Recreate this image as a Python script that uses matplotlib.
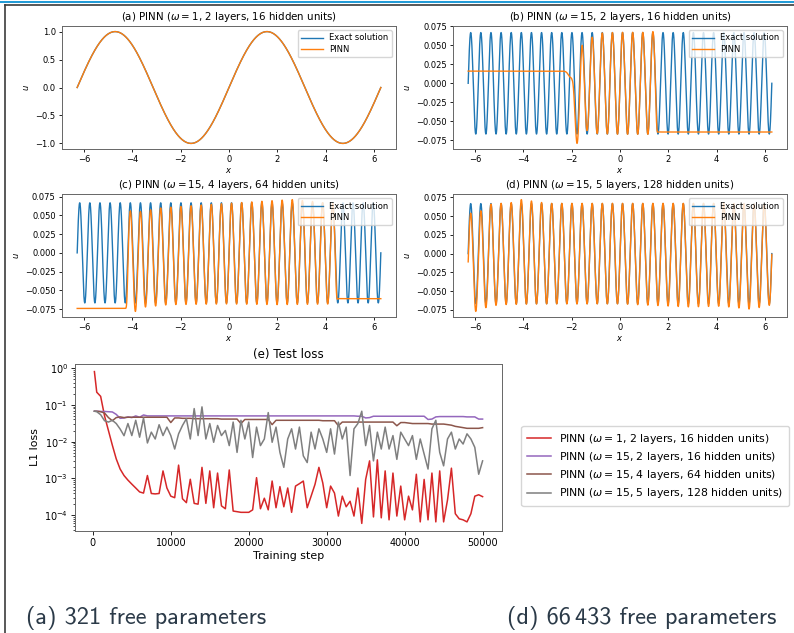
import numpy as np
import matplotlib
matplotlib.use('Agg')
import matplotlib.pyplot as plt
from matplotlib.lines import Line2D

# ---- panels (a)-(d): u(x) on [-2pi, 2pi] ----
omegas = [1, 15, 15, 15]
panel_titles = [
    r'(a) PINN ($\omega = 1$, 2 layers, 16 hidden units)',
    r'(b) PINN ($\omega = 15$, 2 layers, 16 hidden units)',
    r'(c) PINN ($\omega = 15$, 4 layers, 64 hidden units)',
    r'(d) PINN ($\omega = 15$, 5 layers, 128 hidden units)',
]
x_lo, x_hi = -2 * np.pi, 2 * np.pi

# PINN peak / trough heights (x position, value)
peak_x = [[-6.3, 6.3],
          [-1.99, -1.57, -0.94, 0.0, 1.0, 1.36],
          [-4.08, -3.66, -2.8, -1.0, 0.0, 1.5, 2.6, 3.6, 4.08],
          [-6.3, -5.76, -5.34, -4.5, -4.08, -3.0, 0.0, 2.0, 4.0, 6.3]]
peak_u = [[1.0, 1.0],
          [-0.01, 0.05, 0.066, 0.067, 0.067, 0.068],
          [0.056, 0.055, 0.060, 0.064, 0.066, 0.069, 0.071, 0.068, 0.066],
          [0.053, 0.057, 0.066, 0.068, 0.072, 0.067, 0.067, 0.067, 0.067, 0.066]]
trough_x = [[-6.3, 6.3],
            [-1.78, -1.36, -1.15, 0.0, 1.57],
            [-4.29, -3.87, -3.45, -2.5, 0.0, 2.0, 4.5],
            [-6.3, -5.97, -5.55, -5.0, -3.0, 0.0, 2.8, 4.2, 5.4, 5.9, 6.3]]
trough_u = [[-1.0, -1.0],
            [-0.083, -0.062, -0.066, -0.067, -0.067],
            [-0.074, -0.078, -0.072, -0.069, -0.068, -0.069, -0.068],
            [-0.075, -0.077, -0.072, -0.068, -0.067, -0.067, -0.071, -0.070, -0.074, -0.071, -0.068]]
# flat parts of the PINN: (level, where it switches, sharpness)
left_flat = [None, (0.016, -1.97, 0.06), (-0.074, -4.22, 0.02), None]
right_flat = [None, (-0.064, 1.52, 0.02), (-0.061, 4.45, 0.02), None]

# ---- panel (e): test loss ----
steps = [200] + list(range(500, 50001, 500))
loss_w1_2x16 = [
    0.8, 0.22, 0.17, 0.05, 0.02, 0.008, 0.0034, 0.0018, 0.0012, 9e-4,
    7e-4, 5.5e-4, 4.3e-4, 4e-4, 1.2e-3, 3.9e-4, 3.8e-4, 3.9e-4, 1.6e-3, 5.5e-4,
    3.3e-4, 3e-4, 2.3e-3, 2.8e-4, 2.2e-4, 9.5e-4, 2.1e-4, 2e-4, 2e-3, 2.1e-4,
    1.6e-3, 1.6e-4, 1.4e-3, 1.8e-4, 1.5e-4, 1.7e-3, 1.3e-4, 1.25e-4, 1.2e-4, 1.2e-4,
    1.2e-4, 1.4e-4, 1.05e-3, 1.5e-4, 2.9e-4, 1.4e-4, 8.5e-4, 1.6e-4, 6e-4, 1.7e-4,
    5.5e-4, 1.2e-4, 6.2e-4, 7.2e-4, 8.5e-4, 1.6e-4, 3.3e-4, 6.9e-4, 2e-3, 7.5e-4,
    1.6e-4, 6.2e-4, 4e-4, 9.5e-5, 3.3e-4, 1.7e-4, 2.4e-4, 9.5e-5, 5.5e-4, 6e-5,
    9.4e-4, 3e-3, 9e-5, 3.2e-3, 8.5e-5, 1.6e-3, 7.5e-5, 1.4e-3, 9.5e-5, 6.2e-4,
    7.5e-5, 3.3e-4, 1.4e-4, 1.3e-3, 6.6e-5, 9.4e-4, 7.5e-5, 1.4e-3, 6.6e-5, 1.6e-3,
    6.6e-5, 2.6e-4, 1.9e-3, 1.1e-4, 8e-5, 7.5e-5, 6.6e-5, 1.1e-4, 3.3e-4, 3.6e-4,
    3.2e-4]
loss_w15_2x16 = [
    0.067, 0.067, 0.066, 0.066, 0.065, 0.064, 0.055, 0.043, 0.044, 0.047,
    0.045, 0.05, 0.046, 0.053, 0.05, 0.05, 0.05, 0.05, 0.05, 0.05,
    0.05, 0.05, 0.05, 0.05, 0.05, 0.05, 0.05, 0.05, 0.05, 0.05,
    0.05, 0.05, 0.05, 0.05, 0.05, 0.05, 0.05, 0.05, 0.05, 0.05,
    0.05, 0.05, 0.05, 0.05, 0.05, 0.05, 0.05, 0.05, 0.05, 0.05,
    0.05, 0.05, 0.05, 0.05, 0.05, 0.05, 0.05, 0.05, 0.05, 0.05,
    0.05, 0.05, 0.05, 0.05, 0.05, 0.05, 0.05, 0.05, 0.049, 0.049,
    0.044, 0.045, 0.049, 0.049, 0.049, 0.049, 0.049, 0.049, 0.049, 0.049,
    0.049, 0.049, 0.049, 0.049, 0.049, 0.049, 0.04, 0.041, 0.047, 0.048,
    0.048, 0.048, 0.048, 0.048, 0.048, 0.048, 0.047, 0.047, 0.047, 0.041,
    0.041]
loss_w15_4x64 = [
    0.067, 0.067, 0.065, 0.06, 0.045, 0.037, 0.045, 0.047, 0.045, 0.046,
    0.046, 0.046, 0.046, 0.046, 0.046, 0.046, 0.046, 0.046, 0.046, 0.046,
    0.033, 0.044, 0.044, 0.043, 0.043, 0.043, 0.042, 0.042, 0.042, 0.042,
    0.042, 0.042, 0.042, 0.041, 0.041, 0.041, 0.041, 0.041, 0.031, 0.04,
    0.04, 0.04, 0.04, 0.04, 0.04, 0.04, 0.029, 0.038, 0.038, 0.038,
    0.038, 0.038, 0.038, 0.038, 0.038, 0.038, 0.038, 0.038, 0.038, 0.037,
    0.037, 0.037, 0.037, 0.027, 0.034, 0.034, 0.034, 0.034, 0.034, 0.034,
    0.034, 0.034, 0.034, 0.034, 0.034, 0.034, 0.034, 0.034, 0.027, 0.033,
    0.033, 0.032, 0.031, 0.031, 0.031, 0.031, 0.031, 0.03, 0.03, 0.03,
    0.03, 0.029, 0.028, 0.026, 0.025, 0.024, 0.023, 0.023, 0.023, 0.023,
    0.024]
loss_w15_5x128 = [
    0.067, 0.065, 0.054, 0.037, 0.034, 0.038, 0.031, 0.022, 0.0145, 0.031,
    0.0146, 0.038, 0.0132, 0.044, 0.0092, 0.0181, 0.0118, 0.0288, 0.0146, 0.0248,
    0.0146, 0.0063, 0.0163, 0.0275, 0.042, 0.0118, 0.079, 0.0146, 0.088, 0.0118,
    0.031, 0.0096, 0.0275, 0.0146, 0.0201, 0.0078, 0.034, 0.0051, 0.038, 0.0118,
    0.034, 0.0037, 0.0248, 0.0078, 0.0118, 0.0615, 0.0096, 0.0248, 0.0051, 0.002,
    0.0118, 0.0223, 0.0063, 0.0248, 0.0041, 0.0027, 0.0181, 0.0063, 0.0223, 0.0118,
    0.0051, 0.0223, 0.0046, 0.034, 0.0118, 0.0248, 0.0012, 0.0223, 0.031, 0.067,
    0.0078, 0.0275, 0.003, 0.0181, 0.0063, 0.0248, 0.0063, 0.0146, 0.0033, 0.0181,
    0.0118, 0.0078, 0.0146, 0.0033, 0.0118, 0.0046, 0.0018, 0.0223, 0.038, 0.0051,
    0.0022, 0.0118, 0.0181, 0.0063, 0.0118, 0.0086, 0.0163, 0.0118, 0.007, 0.0013,
    0.003]
loss_series = [loss_w1_2x16, loss_w15_2x16, loss_w15_4x64, loss_w15_5x128]
loss_labels = [
    r'PINN ($\omega = 1$, 2 layers, 16 hidden units)',
    r'PINN ($\omega = 15$, 2 layers, 16 hidden units)',
    r'PINN ($\omega = 15$, 4 layers, 64 hidden units)',
    r'PINN ($\omega = 15$, 5 layers, 128 hidden units)',
]
loss_colors = ['tab:red', 'tab:purple', 'tab:brown', 'tab:gray']


def flat_blend(u, x, flat, side):
    if flat is None:
        return u
    level, x0, s = flat
    g = 1 / (1 + np.exp(-(x - x0) / s))
    if side == 'right':
        g = 1 - g
    return (1 - g) * level + g * u


W, H = 794, 633
fig = plt.figure(figsize=(W / 100, H / 100), dpi=100)

# frame lines of the slide
fig.add_artist(Line2D([0, 1], [1 - 1.5 / H] * 2, color='#1d9ad6', lw=1.4))
fig.add_artist(Line2D([5 / W, 1], [1 - 5 / H] * 2, color='#3c3c3c', lw=1.2))
fig.add_artist(Line2D([5 / W] * 2, [0, 1 - 5 / H], color='#3c3c3c', lw=1.2))

boxes = [(62, 26), (453, 26), (62, 194), (453, 194)]
x = np.linspace(x_lo, x_hi, 4000)
for i, (l, t) in enumerate(boxes):
    ax = fig.add_axes([l / W, 1 - (t + 123) / H, 334 / W, 123 / H])
    w = omegas[i]
    exact = np.sin(w * x) / w
    hi = np.interp(x, peak_x[i], peak_u[i])
    lo = np.interp(x, trough_x[i], trough_u[i])
    pinn = (hi + lo) / 2 + (hi - lo) / 2 * np.sin(w * x)
    pinn = flat_blend(pinn, x, left_flat[i], 'left')
    pinn = flat_blend(pinn, x, right_flat[i], 'right')
    ax.plot(x, exact, color='tab:blue', lw=1.0, label='Exact solution')
    ax.plot(x, pinn, color='tab:orange', lw=1.0, label='PINN')
    ax.set_title(panel_titles[i], fontsize=7.4, pad=4)
    ax.set_xlabel('$x$', fontsize=6, labelpad=1)
    ax.set_ylabel('$u$', fontsize=6, labelpad=3)
    ax.tick_params(labelsize=6, length=2.5, width=0.6, pad=2)
    for sp in ax.spines.values():
        sp.set_linewidth(0.7)
        sp.set_color('#666666')
    ax.legend(loc='upper right', fontsize=6, handlelength=2.6, borderpad=0.4,
              labelspacing=0.3)

# loss panel
ax = fig.add_axes([75 / W, 1 - 531 / H, 427 / W, 167 / H])
for vals, lab, c in zip(loss_series, loss_labels, loss_colors):
    ax.plot(steps, vals, color=c, lw=1.1, label=lab)
ax.set_yscale('log')
ax.set_title('(e) Test loss', fontsize=8.6, pad=4)
ax.set_xlabel('Training step', fontsize=7.9, labelpad=2)
ax.set_ylabel('L1 loss', fontsize=7.9, labelpad=3)
ax.tick_params(labelsize=6.9, length=3, width=0.6, pad=2)
ax.tick_params(which='minor', length=1.8, width=0.5)
for sp in ax.spines.values():
    sp.set_linewidth(0.7)
    sp.set_color('#666666')
ax.legend(loc='center left', bbox_to_anchor=(516 / W, 1 - 466 / H),
          bbox_transform=fig.transFigure, fontsize=7.8, handlelength=2.2,
          labelspacing=0.4, borderpad=0.5)

# captions below the figure
cap_kw = dict(family='cmss10', fontsize=17.5, color='#2b3a48', va='center')
fig.text(26 / W, 1 - 618 / H, '(a) 321 free parameters', **cap_kw)
tail = fig.text(776 / W, 1 - 618 / H, '433 free parameters', ha='right', **cap_kw)
rend = fig.canvas.get_renderer()
tail_left = tail.get_window_extent(rend).x0
fig.text((tail_left - 4) / W, 1 - 618 / H, '(d) 66', ha='right', **cap_kw)

fig.savefig('out.png', dpi=100)
